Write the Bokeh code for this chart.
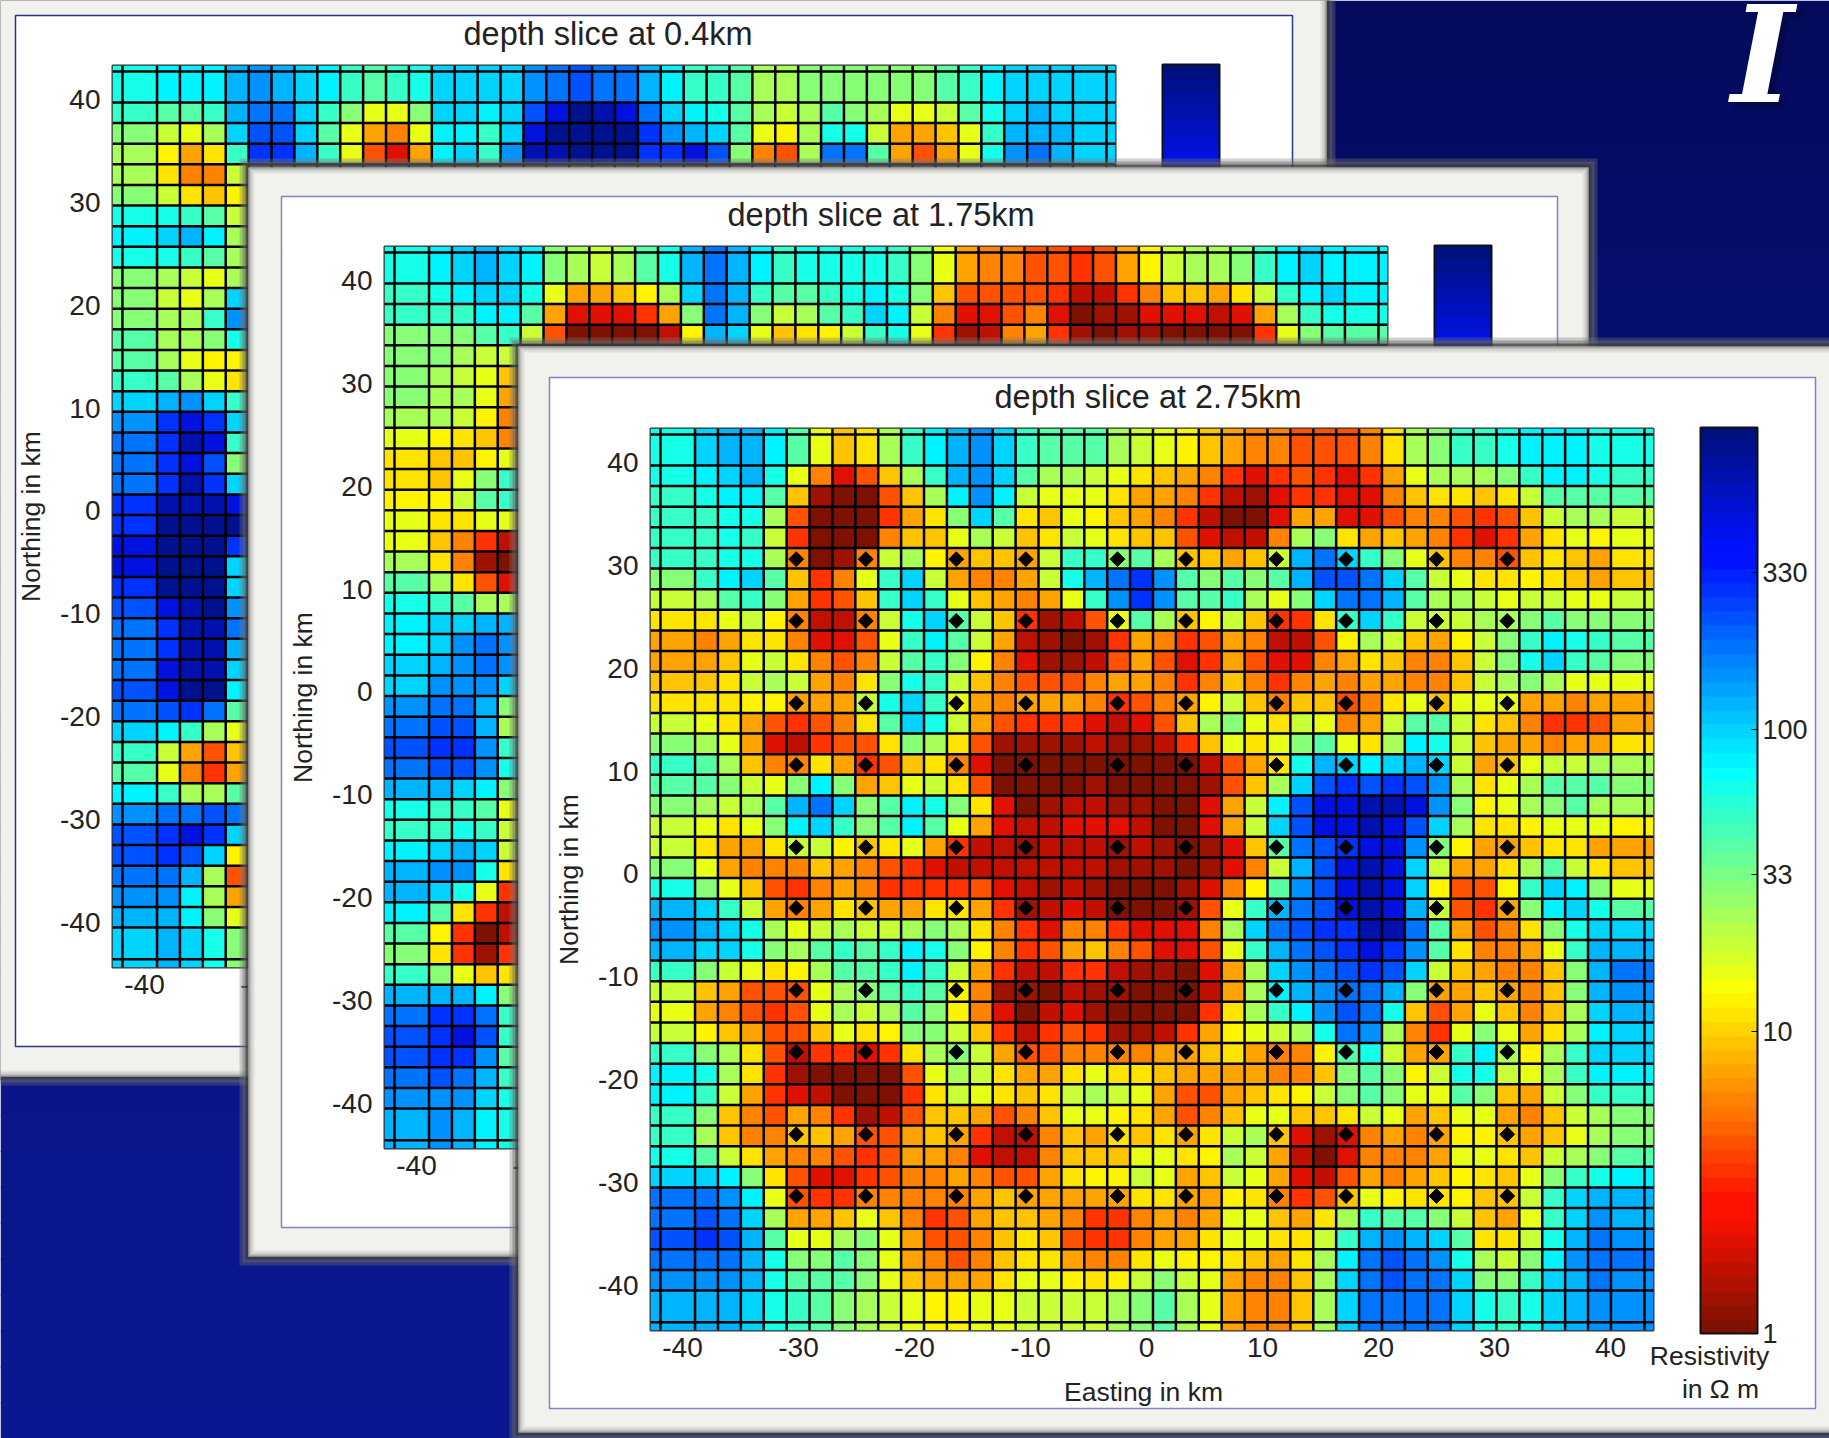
import numpy as np
from bokeh.core.properties import value
from bokeh.embed import file_html
from bokeh.models import (ColorBar, ColumnDataSource, FixedTicker, GridBox,
                          LogColorMapper, Range1d)
from bokeh.plotting import figure
from bokeh.resources import INLINE

# ---------------------------------------------------------------- data
# colour-read resistivity (ohm m) for each letter used in the slice tables
level_value = {
    "a": 1.1, "b": 1.27, "c": 1.62, "d": 2.07, "e": 3.45, "f": 4.36, "g": 5.7, "h": 7.3,
    "i": 8.9, "j": 10.9, "k": 13.3, "l": 16.4, "m": 20.2, "n": 24.8, "o": 31.6, "p": 41.7,
    "q": 53, "r": 63, "s": 75, "t": 99, "u": 125, "v": 153, "w": 193, "x": 245, "y": 300,
    "z": 520, "A": 680, "B": 850,
}

# depth slice at 2.75 km: 42 rows (north to south) x 42 columns (west to east)
slice275_rows = [
    "rtuusplijnqsuvtqpppnm" "lkihggfffgjnoqqrsssrr",
    "rsturlgdfinquvtpnnmlj" "ihgedefedehlnnnoqssrq",
    "qrsspibaafinsvsmllljh" "hgecbdeeddgijjijmpppp",
    "qqrrnfaaaehjotpjilkih" "gecaadhhddfggfefimnnm",
    "qqrqmeaaagiilnmijmlji" "ifdccgnojhihgedehjlkl",
    "qqrrngabgmnkhiihmqqop" "niihimuwtqoliggfijihj",
    "oqstpieglqtmhgghmruwy" "vpopopuxxwtpmljjkjihi",
    "mnpqohefiqtqlihghlqvy" "vppqnlotwwupnnmlmmllm",
    "jjlmkgccgmrtpmiebcflp" "nikmieejqtqmmmnnopooo",
    "hghjjgddflqspmhcbabeh" "gefhgccfknmihkmoqsrqp",
    "hhilmjgfgmpqokgdbbcfh" "fdehfddghjiggimortqpo",
    "iijmnmhgjorqmigfffghh" "gegigeghghhggimnonlll",
    "jjjkkhhhmrtqlhghhhgef" "ghkmigiifgjlilllhhghh",
    "mljhfefgjptrmhfeeedcd" "finoljmlghmppmjigeefh",
    "onlhdceffjonjfbbbbcbb" "ceiljlopljnsrmihhghhj",
    "qpniggjhefijgdaaaaaaa" "aacfhjrutstutmhilmmnn",
    "ppomlosohilmjfaaaabaa" "aabfintxyxyxvnjlnpppo",
    "onmnpuwtopsrojdabccbb" "aadhmsxzzAAzvoklnopnn",
    "mljlostqopsplhdccdddc" "aadhmtxzzAzxtnjjklllk",
    "mjhhjmmkijlheccbcccbc" "babdipwxyzzvokhhijjhh",
    "olhgggihgfedcccccccbb" "babdgmuxzAztmhhjnpmji",
    "rolifeghgeeeefdcbcbaa" "abdgkpvxzAztkffkqtsol",
    "utqmhghjihhjjhebcdcaa" "abflquwxzAzumfehostrp",
    "vutrnlmnmmnonjgedgged" "ddgntwxyyAAwphfgjortt",
    "uttronpqpqsrokgefhigf" "ddflquwxyzyvpjgghlquu",
    "qomljknppqsqmhecceecb" "badhntvwxyxtmihggiouw",
    "mihffflnopqpkgbbacbba" "aachnsuvwwuohhihgiouv",
    "lhgfeflnmnpokgdacdbaa" "aaejnqsvxwrifhligintu",
    "mkihffiljkoomiecefebb" "cehklmnrwvngelolhjnst",
    "qonjfceedejnomhffgggg" "hhijhggkprmhhqsnknqtt",
    "srnjebaaaaflnmjhhjljj" "ihhhhggiopokmrrmlnqss",
    "sqmhedcaaaejmljijmnml" "hffhijkmopollpoihmoqq",
    "qoigfhgebcfiihfgillkj" "hfgilliijmlhillhgimno",
    "qniggiihffhiheccgihji" "jhjmnidbdghghkkihilno",
    "rpmjhggfefhhgdccgiiil" "ljknmhcadggghlljimnop",
    "ttsojfddefgghgffhjkkm" "lhimlhdcfhghikjiloqrs",
    "wwvslfeeggggghihhhhhj" "jhhkjgefilkjjkiimqtuu",
    "wxwtnhhiligefhiihgeeg" "hghllihjnqppomihlqtvu",
    "xyxupllnolhffgijifeeg" "hhjlljjmquvutpjjmruwv",
    "wwwuroopolhgfgijjhggj" "lkkjihjnswxwvrnmosvww",
    "vvvurpppolihhhjllkjkm" "omlhggintwxwwtooqtuwv",
    "uuutrqponmlkkllmmmmno" "pnlhggintwwwwtrqrtuvv",
]

# depth slice at 0.4 km: the uncovered first 4 rows and the first 5 columns of the rest
slice04_top = [
    "rsssuvutsqpqrttt" "tvwxwwusqqpnnoooooopqstttt",
    "qppquwwtqollotts" "txzBAzwtsrpnmnponllmprtutt",
    "omlntxxtplhglssq" "tzBBBByvutplknrrmhhilquuut",
    "nkhjqyyuqlfdhstq" "vAABBByyzxogfnwwphfhlrvwut",
]
slice04_left = [
    "njggm", "omjik", "rrqpm", "stusn", "rrqpn", "onmln", "omlnt", "onnqv", "pnnor", "pnlkk",
    "qpnlj", "tuvtq", "vyzyt", "wyAzq", "wyzxo", "wyAyt", "yAAAz", "yBBBB", "zBBBy", "zBBBt",
    "yBBBt", "xzABv", "wyAAw", "wyAAu", "wzAAt", "xzBBs", "wxywp", "tsqnl", "qmhfi", "plgeh",
    "sqnnp", "vwwxw", "xyzyt", "xyxtk", "wwunf", "vvsnh", "uusol", "tutro",
]

# depth slice at 1.75 km: same two visible strips
slice175_top = [
    "rstutsonmnpruwusqrrrrqolhggffefhkmnnoqstss",
    "qrsttrlhhikntwuqppqrsroiffffeccegiihjmqsts",
    "qqqssphdddehowuomnpqtsmgddfgdabbdddcdhnqrr",
    "ooopqmfaaaackutlijkmqrlebcghebabbaaaaelopp",
]
slice175_left = [
    "oonmm", "onmli", "onnlh", "nnmkg", "lkjig", "jiikl", "jiloq", "kkmpq",
    "ljjll", "ligec", "njgba", "pnjfd", "rqpnn", "sttuu", "stvwv", "tuvwv", "tvvvt", "vwwuo",
    "wxxun", "xyyvq", "wxxvr", "uutso", "rqqpl", "qqrqm", "stutm", "uvvrj", "utrle", "spjec",
    "pkeac", "ojebe", "qolij", "uuuso", "wyywq", "xyzxq", "xyyvp", "wxwuq", "vvvtr", "uvusr",
]

# stations of the 2.75 km slice, km
station_east = [-30.2, -24.2, -16.4, -10.4, -2.5, 3.4, 11.2, 17.2, 25.0, 31.1]
station_north = [30.6, 24.6, 16.6, 10.6, 2.6, -3.3, -11.3, -17.3, -25.3, -31.3]

# axis text
axis_ticks = [-40, -30, -20, -10, 0, 10, 20, 30, 40]
bar_ticks = [1, 10, 33, 100, 330]
titles = ["depth slice at 0.4km", "depth slice at 1.75km", "depth slice at 2.75km"]

# ---------------------------------------------------------------- styling and geometry
W, H = 1829, 1438
FONT = "Liberation Sans"
X_START, X_END = -42.76, 43.71
Y_START, Y_END = -44.37, 43.3
CELL_X, CELL_Y = 1.974, 2.005
x_inner = -38.92 + CELL_X * np.arange(41)
y_inner = 39.71 - CELL_Y * np.arange(41)
x_edges = np.r_[X_START, x_inner, X_END]
y_edges = np.r_[Y_END, y_inner, Y_START]
x_lines = np.r_[-41.9, x_inner, 42.93]
y_lines = np.r_[42.72, y_inner, -43.56]


def jet(n):
    t = np.linspace(0, 1, n)
    out = []
    for s in t:
        j = 1 - s  # low resistivity is red
        r = np.clip(min(4 * j - 1.5, -4 * j + 4.5), 0, 1)
        g = np.clip(min(4 * j - 0.5, -4 * j + 3.5), 0.07, 1)
        b = np.clip(min(4 * j + 0.5, -4 * j + 2.5), 0, 1)
        out.append("#%02x%02x%02x" % (int(r * 255), int(g * 255), int(b * 255)))
    return out


mapper = LogColorMapper(palette=jet(64), low=1, high=1000)


def bare(**kw):
    p = figure(width=W, height=H, x_range=Range1d(0, W), y_range=Range1d(H, 0), min_border=0,
               toolbar_location=None, output_backend="svg", frame_align=False, **kw)
    p.axis.visible = False
    p.grid.visible = False
    p.outline_line_color = None
    p.background_fill_alpha = 0
    p.border_fill_alpha = 0
    return p


def card(p, x0, y0, x1, y1, fx0, fy0, fx1, fy1, frame_color):
    for grow, col, alpha in ((9, "#787878", 0.35), (6, "#666666", 0.45), (3, "#303030", 0.6)):
        p.quad(left=x0 - grow, right=x1 + grow, top=y0 - grow, bottom=y1 + grow,
               fill_color=col, fill_alpha=alpha, line_color=None)
    p.quad(left=x0, right=x1, top=y0, bottom=y1, fill_color="#f1f1ee", line_color=None)
    for inset, alpha in ((1, 0.45), (3, 0.22), (5, 0.1)):
        p.quad(left=x0 + inset, right=x1 - inset, top=y0 + inset, bottom=y1 - inset,
               fill_alpha=0, line_color="#505050", line_alpha=alpha, line_width=2)
    p.quad(left=fx0, right=fx1, top=fy0, bottom=fy1, fill_color="white",
           line_color=frame_color, line_width=1.5)


def panel(title, left, top, title_offset, cells, full_axes):
    width, height = 1270, 1044
    p = figure(width=width, height=height, x_range=Range1d(X_START, X_END),
               y_range=Range1d(Y_START, Y_END), min_border_left=100, min_border_right=167,
               min_border_top=64, min_border_bottom=77, toolbar_location=None,
               output_backend="svg", margin=(top, 0, 0, left), title=title, frame_align=False)
    p.background_fill_alpha = 0
    p.border_fill_alpha = 0
    p.grid.visible = False
    p.outline_line_color = "#303030"
    p.outline_line_width = 2
    p.title.align = "left"
    p.title.offset = title_offset
    p.title.text_font = FONT
    p.title.text_font_style = "normal"
    p.title.text_font_size = "32.5px"
    p.title.text_color = "#222222"
    p.title.standoff = 27

    r_idx, c_idx = zip(*[(r, c) for r, c, _ in cells])
    r_idx, c_idx = np.array(r_idx), np.array(c_idx)
    src = ColumnDataSource(dict(left=x_edges[c_idx], right=x_edges[c_idx + 1], top=y_edges[r_idx],
                                bottom=y_edges[r_idx + 1], rho=[level_value[k] for _, _, k in cells]))
    p.quad(left="left", right="right", top="top", bottom="bottom", source=src,
           fill_color={"field": "rho", "transform": mapper}, line_color=None)
    p.segment(x0=x_lines, x1=x_lines, y0=Y_START, y1=Y_END, line_color="black", line_width=2.5)
    p.segment(x0=X_START, x1=X_END, y0=y_lines, y1=y_lines, line_color="black", line_width=2.5)

    shown_x = axis_ticks if full_axes else axis_ticks[:2]
    p.xaxis.ticker = FixedTicker(ticks=shown_x)
    p.yaxis.ticker = FixedTicker(ticks=axis_ticks)
    p.xaxis[0].major_label_overrides = {v: str(v) for v in shown_x}
    p.yaxis[0].major_label_overrides = {v: str(v) for v in axis_ticks}
    for ax in (p.xaxis[0], p.yaxis[0]):
        ax.axis_line_color = None
        ax.major_tick_line_color = None
        ax.minor_tick_line_color = None
        ax.major_label_text_font = FONT
        ax.major_label_text_font_size = "28px"
        ax.major_label_text_color = "#222222"
        ax.major_label_standoff = 6
        ax.axis_label_text_font = FONT
        ax.axis_label_text_font_size = "26.5px"
        ax.axis_label_text_font_style = "normal"
        ax.axis_label_text_color = "#222222"
    p.xaxis[0].major_label_standoff = 1
    p.yaxis[0].axis_label = "Northing in km"
    p.yaxis[0].axis_label_standoff = 11

    bar = ColorBar(color_mapper=mapper, width=57, height=906, padding=0, margin=0,
                   location=(47, -3), bar_line_color="#111111", bar_line_width=2,
                   ticker=FixedTicker(ticks=bar_ticks if full_axes else []),
                   major_tick_line_color="black", major_tick_in=6, minor_tick_line_color=None,
                   major_label_text_font=FONT, major_label_text_font_size="27px",
                   major_label_text_color="#222222", label_standoff=5)
    p.add_layout(bar, "right")
    return p


def cells_from(top_rows, left_rows=None):
    cells = []
    for r, row in enumerate(top_rows):
        cells += [(r, c, k) for c, k in enumerate(row)]
    for r, row in enumerate(left_rows or []):
        cells += [(r + len(top_rows), c, k) for c, k in enumerate(row)]
    return cells


# ---------------------------------------------------------------- layers
back = bare()
stops_y, stops = [0, 346, 1080, 1438], [(4, 10, 92), (7, 15, 112), (10, 22, 138), (11, 24, 145)]
band = np.linspace(0, H, 41)
for y0, y1 in zip(band[:-1], band[1:]):
    rgb = [int(np.interp(y0, stops_y, [s[i] for s in stops])) for i in range(3)]
    back.quad(left=0, right=W, top=y0, bottom=y1 + 1, fill_color="#%02x%02x%02x" % tuple(rgb), line_color=None)
back.text(x=[1768], y=[60], text=["I"], text_font=value("DejaVu Serif"), text_font_style="bold italic",
          text_font_size=value("134px"), text_color="#03063c", text_alpha=0.6, text_align="center",
          text_baseline="alphabetic")
back.text(x=[1762], y=[54], text=["I"], text_font=value("DejaVu Serif"), text_font_style="bold italic",
          text_font_size=value("134px"), text_color="white", text_align="center",
          text_baseline="alphabetic")
card(back, -20, -20, 1326, 1076, 15, 15, 1292, 1046, "#2b3488")

p1 = panel(titles[0], 12, 0, 351, cells_from(slice04_top, slice04_left), False)

deck2 = bare()
card(deck2, 248, 167, 1588, 1256, 281, 196, 1557, 1227, "#7d86c0")
p2 = panel(titles[1], 284, 181, 343, cells_from(slice175_top, slice175_left), False)

deck3 = bare()
card(deck3, 518, 346, 1860, 1432, 549, 377, 1815, 1408, "#7d86c0")
p3 = panel(titles[2], 550, 363, 344, cells_from(slice275_rows), True)
sx, sy = np.meshgrid(station_east, station_north)
p3.scatter(sx.ravel(), sy.ravel(), marker="square", angle=np.pi / 4, size=10.5,
           fill_color="black", line_color="black")

notes = bare()
notes.text(x=[1709, 1720, 1143], y=[1355, 1388, 1391], text=["Resistivity", "in Ω m", "Easting in km"],
           text_font=value(FONT), text_font_size=value("26.5px"), text_color="#222222",
           text_align="center", text_baseline="middle")

layers = [back, p1, deck2, p2, deck3, p3, notes]
root = GridBox(children=[(f, 0, 0) for f in layers])
open("out.html", "w").write(file_html(root, INLINE))
